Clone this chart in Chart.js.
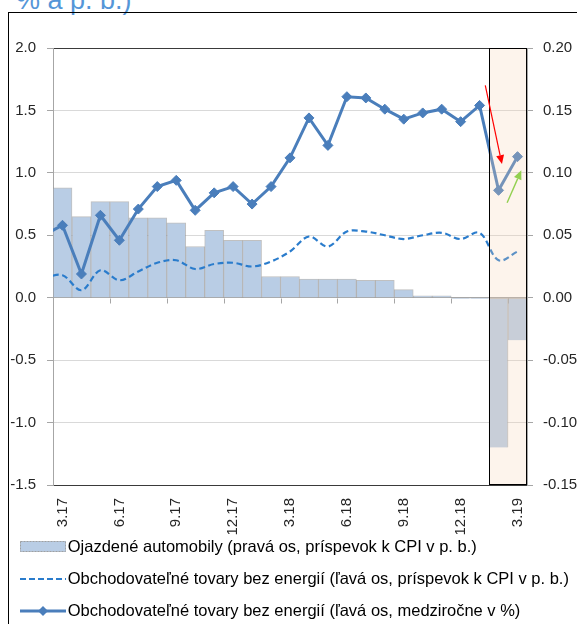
<!DOCTYPE html>
<html>
<head>
<meta charset="utf-8">
<script src="https://cdn.jsdelivr.net/npm/chart.js@4.4.1/dist/chart.umd.min.js"></script>
<style>
  html, body { margin:0; padding:0; background:#fff; overflow:hidden; }
  body { width:577px; height:624px; position:relative; }
  #frame { position:absolute; left:8px; top:12px; width:620px; height:700px; border-left:1px solid #000; border-top:1px solid #000; }
  #title { position:absolute; left:16px; top:-13px; font:27px/27px 'Liberation Sans', Arial, sans-serif; color:#5596d8; white-space:nowrap; }
  #wrap { position:absolute; left:0; top:0; width:577px; height:640px; }
</style>
</head>
<body>
<div id="title">% a p. b.)</div>
<div id="frame"></div>
<div id="wrap"><canvas id="chart" width="577" height="640"></canvas></div>
<script>
// months, first one (2.17) only feeds the line segment that enters from the left edge
const months = ['2.17','3.17','4.17','5.17','6.17','7.17','8.17','9.17','10.17','11.17','12.17',
  '1.18','2.18','3.18','4.18','5.18','6.18','7.18','8.18','9.18','10.18','11.18','12.18',
  '1.19','2.19','3.19'];

// used cars, right axis, contribution to CPI in p.p.
const usedCars = [null, 0.088, 0.065, 0.077, 0.077, 0.064, 0.064, 0.060, 0.041, 0.054, 0.046,
  0.046, 0.017, 0.017, 0.015, 0.015, 0.015, 0.014, 0.014, 0.0065, 0.0016, 0.0016, -0.0007,
  -0.0007, -0.120, -0.034];

// tradable goods excl. energy, left axis, contribution to CPI in p.p.
const tradableContrib = [0.16, 0.18, 0.06, 0.22, 0.14, 0.21, 0.28, 0.30, 0.23, 0.27, 0.28,
  0.25, 0.29, 0.37, 0.49, 0.41, 0.53, 0.53, 0.50, 0.47, 0.50, 0.52, 0.47,
  0.52, 0.30, 0.37];

// tradable goods excl. energy, left axis, y/y in %
const tradableYoY = [0.50, 0.58, 0.19, 0.66, 0.46, 0.71, 0.89, 0.94, 0.70, 0.84, 0.89,
  0.75, 0.89, 1.12, 1.44, 1.22, 1.61, 1.60, 1.51, 1.43, 1.48, 1.51, 1.41,
  1.54, 0.86, 1.13];

const leftTicks = { min: -1.5, max: 2.0, step: 0.5 };
const rightTicks = { min: -0.15, max: 0.20, step: 0.05 };
const labelledMonths = ['3', '6', '9', '12'];
const shadeStart = '2.19';

// arrows in data units: [category index, left-axis value]
const redArrow = [[23.3, 1.70], [24.18, 1.07]];
const greenArrow = [[24.45, 0.76], [25.2, 1.02]];

const legendTexts = [
  'Ojazdené automobily (pravá os, príspevok k CPI v p. b.)',
  'Obchodovateľné tovary bez energií (ľavá os, príspevok k CPI v p. b.)',
  'Obchodovateľné tovary bez energií (ľavá os, medziročne v %)'
];

const BAR = '#b9cde5', DASH = '#2a7ccc', SOLID = '#4a7ebb';
const FONT = "'Liberation Sans', Arial, sans-serif";

// legend symbols as little canvases (used as pointStyle images)
function symbol(kind) {
  const c = document.createElement('canvas');
  c.width = 57; c.height = 14;
  const g = c.getContext('2d');
  const x0 = 11, x1 = 57, cy = 7;
  if (kind === 'bar') {
    g.fillStyle = BAR; g.fillRect(x0, 1, x1 - x0, 11);
    g.setLineDash([2, 1]); g.strokeStyle = '#a0a0a0'; g.lineWidth = 1;
    g.strokeRect(x0 + 0.5, 1.5, x1 - x0 - 1, 10);
  } else if (kind === 'dash') {
    g.setLineDash([6, 3]); g.strokeStyle = DASH; g.lineWidth = 2;
    g.beginPath(); g.moveTo(x0, cy); g.lineTo(x1, cy); g.stroke();
  } else {
    g.strokeStyle = SOLID; g.lineWidth = 3;
    g.beginPath(); g.moveTo(x0, cy); g.lineTo(x1, cy); g.stroke();
    const mx = (x0 + x1) / 2, r = 5;
    g.fillStyle = SOLID;
    g.beginPath(); g.moveTo(mx, cy - r); g.lineTo(mx + r, cy); g.lineTo(mx, cy + r); g.lineTo(mx - r, cy); g.closePath(); g.fill();
  }
  return c;
}
const symbols = [symbol('bar'), symbol('dash'), symbol('solid')];

function arrow(ctx, x1, y1, x2, y2, color, w) {
  const a = Math.atan2(y2 - y1, x2 - x1), len = 9, half = 4;
  ctx.save();
  ctx.strokeStyle = color; ctx.fillStyle = color; ctx.lineWidth = w;
  ctx.beginPath(); ctx.moveTo(x1, y1);
  ctx.lineTo(x2 - Math.cos(a) * len, y2 - Math.sin(a) * len); ctx.stroke();
  ctx.beginPath();
  ctx.moveTo(x2, y2);
  ctx.lineTo(x2 - Math.cos(a) * len - Math.sin(a) * half, y2 - Math.sin(a) * len + Math.cos(a) * half);
  ctx.lineTo(x2 - Math.cos(a) * len + Math.sin(a) * half, y2 - Math.sin(a) * len - Math.cos(a) * half);
  ctx.closePath(); ctx.fill();
  ctx.restore();
}

const extras = {
  id: 'extras',
  afterLayout(chart) {
    // tick labels are clipped to the scale box, let the rotated ones run into the legend zone
    const xs = chart.scales.x;
    xs.bottom = xs.top + 70;
  },
  beforeDatasetsDraw(chart) {
    // small tick marks hanging under the zero line
    const xs = chart.scales.x, ys = chart.scales.y, ctx = chart.ctx;
    const half = (xs.getPixelForValue(1) - xs.getPixelForValue(0)) / 2;
    const y0 = Math.round(ys.getPixelForValue(0)) + 0.5;
    ctx.save();
    ctx.strokeStyle = '#a6a6a6'; ctx.lineWidth = 1;
    for (let i = xs.min; i <= xs.max; i++) {
      if (!labelledMonths.includes(months[i].split('.')[0])) continue;
      const px = Math.round(xs.getPixelForValue(i) - half) + 0.5;
      ctx.beginPath(); ctx.moveTo(px, y0); ctx.lineTo(px, y0 + 5); ctx.stroke();
    }
    ctx.restore();
  },
  afterDatasetsDraw(chart) {
    const xs = chart.scales.x, ys = chart.scales.y, ctx = chart.ctx, area = chart.chartArea;
    const half = (xs.getPixelForValue(1) - xs.getPixelForValue(0)) / 2;
    const left = Math.round(xs.getPixelForValue(months.indexOf(shadeStart)) - half) + 0.5;
    const right = Math.round(area.right) - 0.5;
    ctx.save();
    ctx.fillStyle = 'rgba(247,210,180,0.25)';
    ctx.fillRect(left, area.top, right - left, area.bottom - area.top);
    ctx.strokeStyle = '#000'; ctx.lineWidth = 1;
    ctx.strokeRect(left, Math.round(area.top) + 0.5, right - left, Math.round(area.bottom - area.top) - 1);
    ctx.restore();
    const p = pt => [xs.getPixelForValue(pt[0]), ys.getPixelForValue(pt[1])];
    const r0 = p(redArrow[0]), r1 = p(redArrow[1]);
    const g0 = p(greenArrow[0]), g1 = p(greenArrow[1]);
    arrow(ctx, r0[0], r0[1], r1[0], r1[1], '#ff0000', 1.2);
    arrow(ctx, g0[0], g0[1], g1[0], g1[1], '#92d050', 1.4);
  }
};

const near = (a, b) => Math.abs(a - b) < 1e-9;

new Chart(document.getElementById('chart'), {
  type: 'bar',
  data: {
    labels: months,
    datasets: [
      { type: 'bar', label: legendTexts[0], data: usedCars, yAxisID: 'y1', order: 3,
        backgroundColor: BAR, borderColor: 'rgba(140,140,140,0.55)',
        borderWidth: { top: 1, left: 1, right: 1, bottom: 0 }, borderSkipped: false,
        barPercentage: 1, categoryPercentage: 1 },
      { type: 'line', label: legendTexts[1], data: tradableContrib, yAxisID: 'y', order: 2,
        borderColor: DASH, borderWidth: 2.2, borderDash: [6, 3.5], tension: 0.35,
        pointRadius: 0, fill: false },
      { type: 'line', label: legendTexts[2], data: tradableYoY, yAxisID: 'y', order: 1,
        borderColor: SOLID, borderWidth: 3, tension: 0, fill: false,
        pointStyle: 'rectRot', pointRadius: 5, pointBorderWidth: 1,
        pointBackgroundColor: SOLID, pointBorderColor: SOLID }
    ]
  },
  options: {
    responsive: false,
    animation: false,
    layout: { padding: { top: 48, left: 0, right: 0, bottom: 10.75 } },
    font: { family: FONT },
    scales: {
      x: {
        type: 'category', min: '3.17', max: '3.19', offset: true,
        grid: { display: false, drawTicks: false },
        border: { display: false },
        ticks: {
          autoSkip: false, maxRotation: 90, minRotation: 90, padding: 13,
          color: '#262626', font: { family: FONT, size: 15 },
          callback(v) {
            const lab = this.getLabelForValue(v);
            return labelledMonths.includes(lab.split('.')[0]) ? lab : '';
          }
        },
        afterFit(s) { s.height = 38.25; }
      },
      y: {
        position: 'left', min: leftTicks.min, max: leftTicks.max,
        ticks: { stepSize: leftTicks.step, padding: 11, color: '#262626',
          font: { family: FONT, size: 15 },
          callback: v => (near(v, 0) ? 0 : v).toFixed(1) },
        grid: {
          tickLength: 6, tickColor: '#a6a6a6',
          color: c => near(c.tick.value, 0) ? '#a6a6a6'
            : (near(c.tick.value, leftTicks.max) || near(c.tick.value, leftTicks.min)) ? '#3a3a3a' : '#d9d9d9'
        },
        border: { display: true, color: '#a6a6a6' },
        afterFit(s) { s.width = 53; }
      },
      y1: {
        position: 'right', min: rightTicks.min, max: rightTicks.max,
        ticks: { stepSize: rightTicks.step, padding: 10, color: '#262626',
          font: { family: FONT, size: 15 },
          callback: v => (near(v, 0) ? 0 : v).toFixed(2) },
        grid: { drawOnChartArea: false, tickLength: 6, color: '#a6a6a6' },
        border: { display: true, color: '#a6a6a6' },
        afterFit(s) { s.width = 50; }
      }
    },
    plugins: {
      tooltip: { enabled: false },
      legend: {
        position: 'bottom', align: 'start',
        labels: {
          usePointStyle: true, pointStyleWidth: 44, padding: 15.5,
          color: '#1a1a1a', font: { family: FONT, size: 16.5 },
          generateLabels: chart => chart.data.datasets.map((d, i) => ({
            text: d.label, pointStyle: symbols[i], datasetIndex: i, hidden: false,
            fillStyle: 'transparent', strokeStyle: 'transparent', lineWidth: 0
          }))
        }
      }
    }
  },
  plugins: [extras]
});
</script>
</body>
</html>
